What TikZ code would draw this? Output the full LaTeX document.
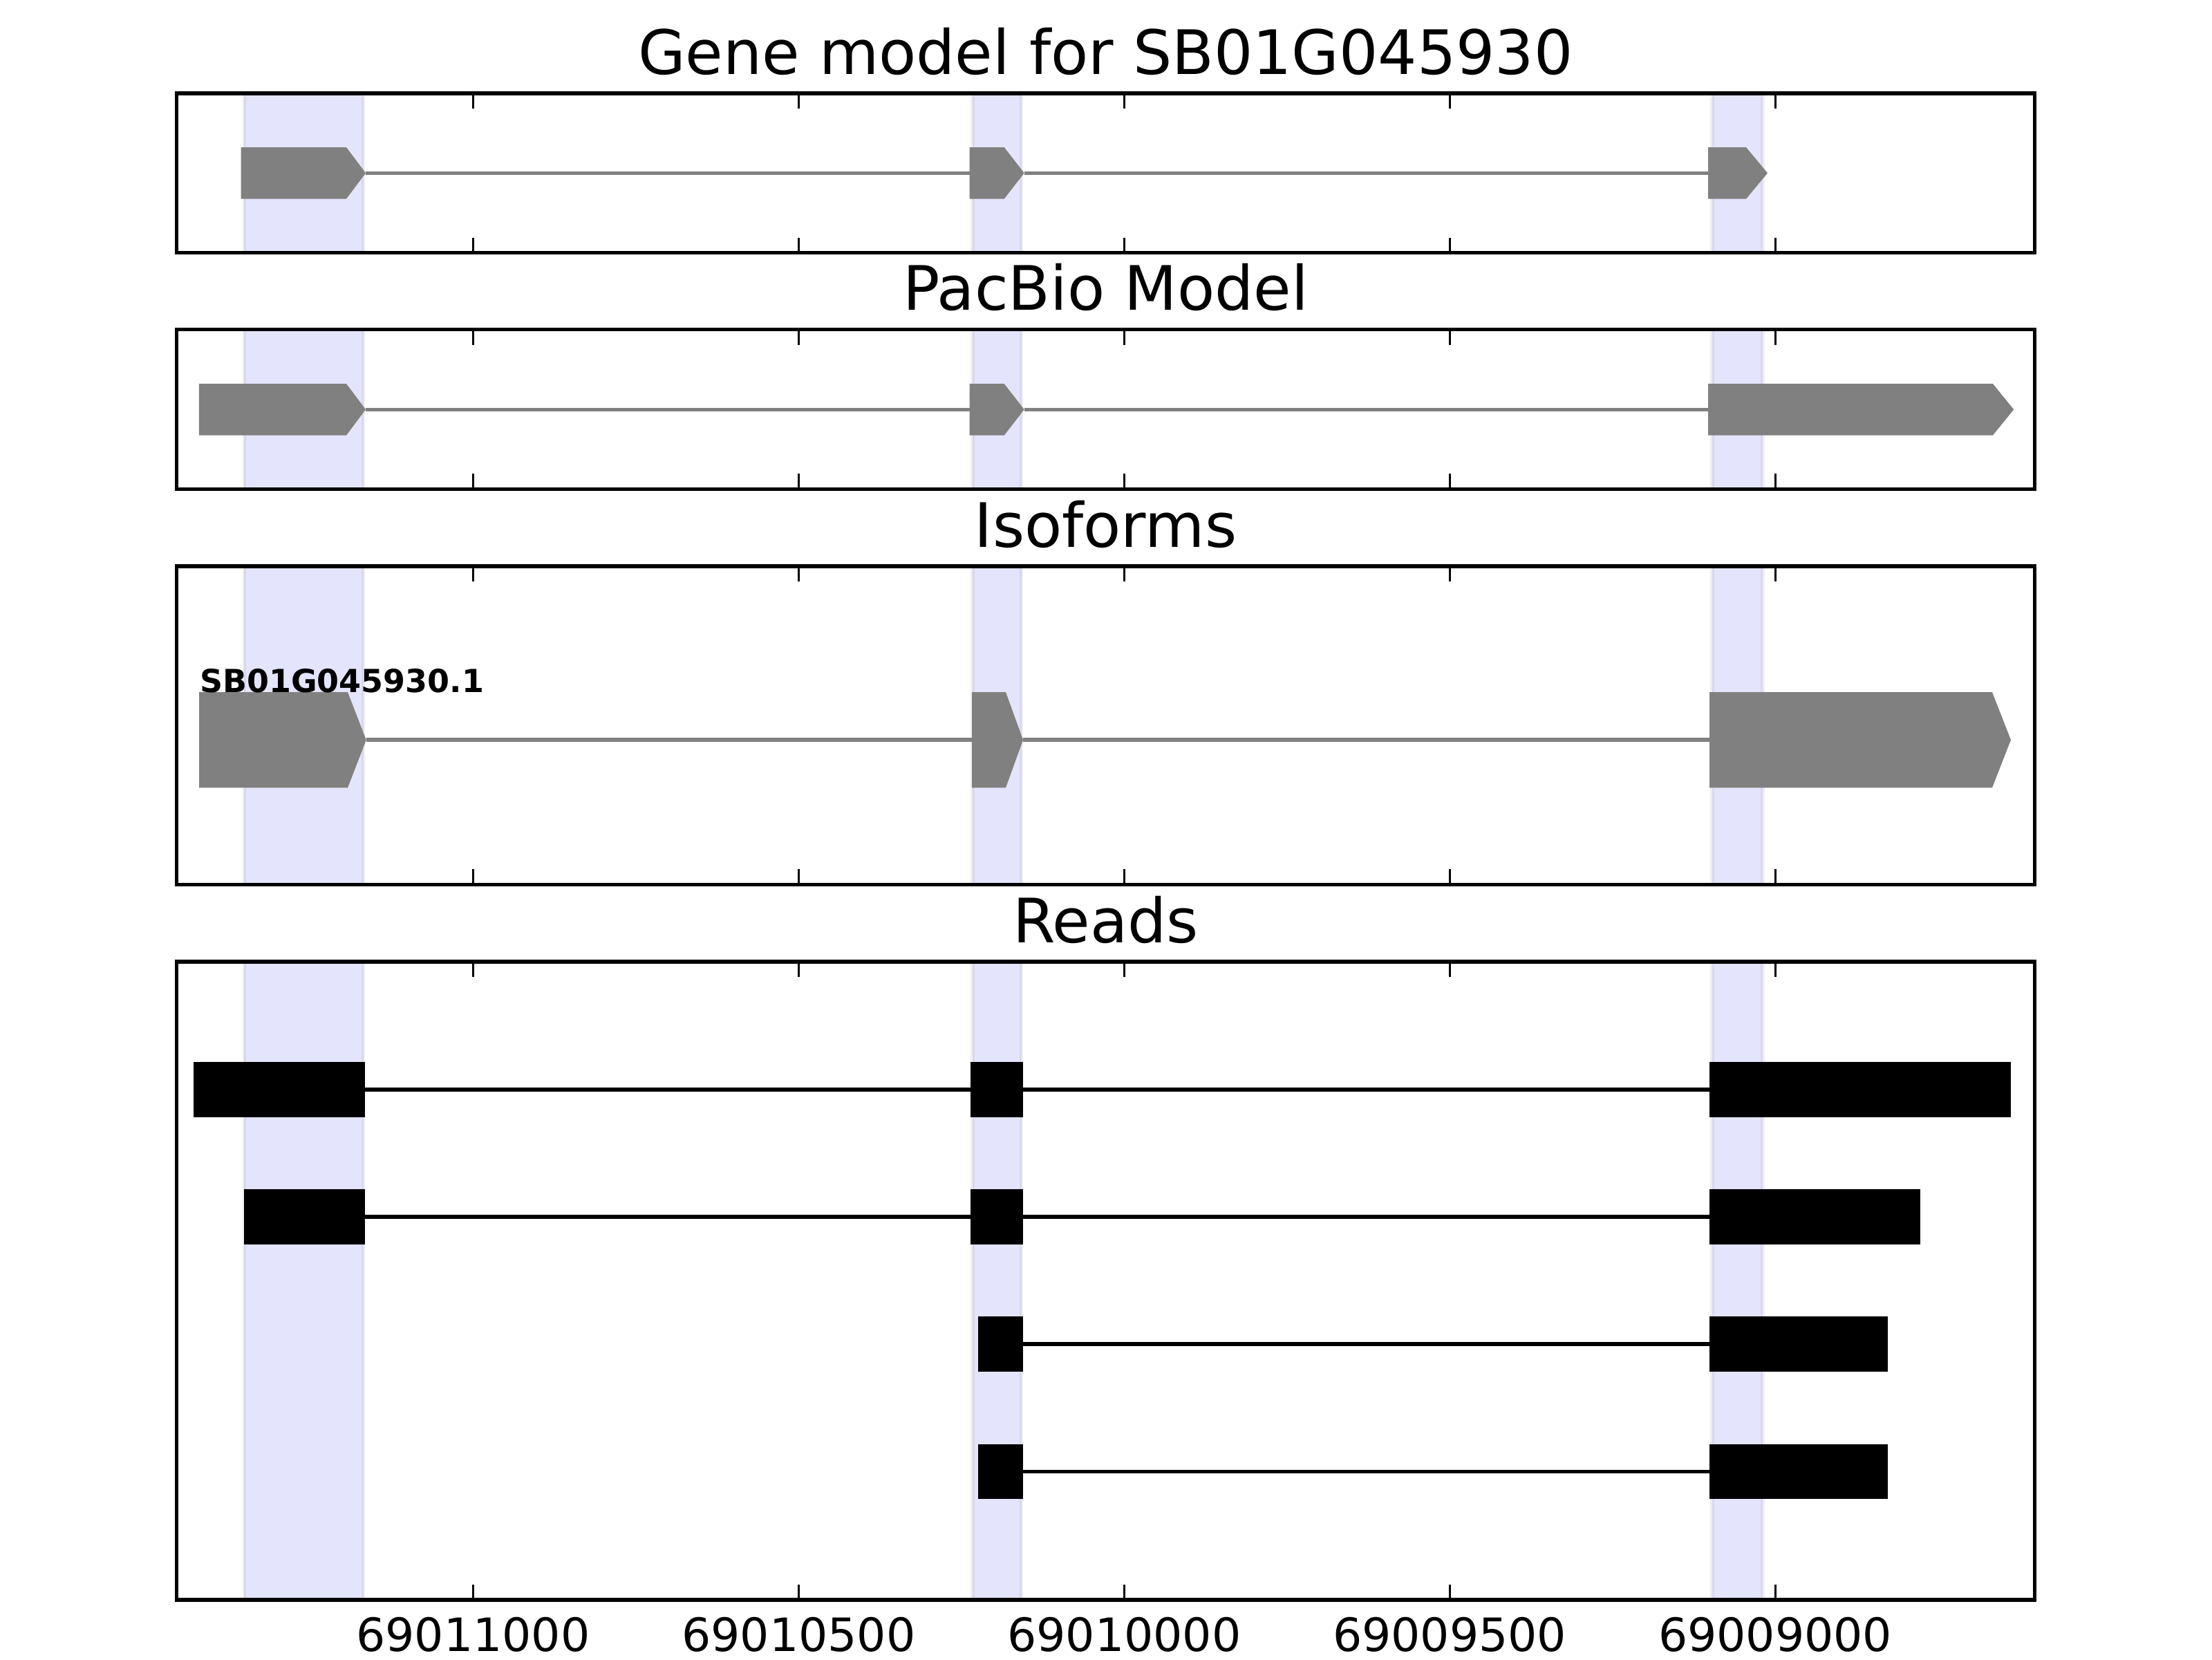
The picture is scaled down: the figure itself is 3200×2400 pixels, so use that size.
\documentclass[tikz,border=0pt]{standalone}
\usepackage{fontspec}
\setmainfont{DejaVu Sans}
\usepackage{tikz}
\definecolor{exongray}{RGB}{128,128,128}
\definecolor{spanfill}{RGB}{228,228,253}
\definecolor{spanedge}{RGB}{216,216,236}
\definecolor{spanhalo}{RGB}{238,238,242}

%% pentagon exon: start, body end, tip, y centre, half height
\newcommand{\exonarrow}[5]{%
  \fill[exongray] (#1,#4-#5) -- (#2,#4-#5) -- (#3,#4) -- (#2,#4+#5) -- (#1,#4+#5) -- cycle;}

%% shaded exon columns of the gene model
\newcommand{\exonspans}[2]{%
  \foreach \xa/\xb in {353/525.7,1406.7/1477.7,2476.8/2550}{
    \draw[spanhalo, line width=0.9pt] (\xa,#1) -- (\xa,#2) (\xb,#1) -- (\xb,#2);
    \fill[spanfill] (\xa,#1) rectangle (\xb,#2);
    \draw[spanedge, line width=0.5pt] (\xa+1.4,#1) -- (\xa+1.4,#2) (\xb-1.4,#1) -- (\xb-1.4,#2);
  }}

%% frame with inward ticks top and bottom
\newcommand{\axframe}[2]{%
  \foreach \t in {684.5,1155.4,1626.3,2097.2,2568.1}{
    \draw[line width=0.5pt] (\t,#1) -- ++(0,22.2);
    \draw[line width=0.5pt] (\t,#2) -- ++(0,-22.2);
  }
  \draw[line width=1pt] (255.5,#1) rectangle (2943.5,#2);}

\begin{document}
\begin{tikzpicture}[x=0.00635cm, y=-0.00635cm,
    ttl/.style={anchor=base, inner sep=0pt, font=\fontsize{16}{19}\selectfont},
    ticklbl/.style={anchor=base, inner sep=0pt, font=\fontsize{12}{14}\selectfont},
    intron/.style={exongray, line width=1pt},
    readline/.style={black, line width=1pt}]

    \useasboundingbox (0,0) rectangle (3200,2400);

    %% Gene model
    \node[ttl] (ttlgene) at (1599.5,107.3) {Gene model for SB01G045930};
    \exonspans{135}{365.7}
    \draw[intron] (529,250.3) -- (1402.7,250.3);
    \draw[intron] (1481.7,250.3) -- (2471,250.3);
    \exonarrow{348.7}{501}{529}{250.3}{37.3}
    \exonarrow{1402.7}{1452.7}{1481.7}{250.3}{37.3}
    \exonarrow{2471}{2526}{2557}{250.3}{37.3}
    \axframe{135}{365.7}

    %% PacBio model
    \node[ttl] (ttlpacbio) at (1599.5,448.7) {PacBio Model};
    \exonspans{476.4}{707.5}
    \draw[intron] (529,592.3) -- (1402.7,592.3);
    \draw[intron] (1481.7,592.3) -- (2471,592.3);
    \exonarrow{287.8}{501}{529}{592.3}{37.3}
    \exonarrow{1402.7}{1452.7}{1481.7}{592.3}{37.3}
    \exonarrow{2471}{2882.9}{2913.2}{592.3}{37.3}
    \axframe{476.4}{707.5}

    %% Isoforms
    \node[ttl] (ttliso) at (1599.5,791.1) {Isoforms};
    \exonspans{818.8}{1279.5}
    \draw[intron] (529.8,1070.2) -- (1406,1070.2);
    \draw[intron] (1480,1070.2) -- (2473,1070.2);
    \exonarrow{288}{503}{529.8}{1070.2}{69.1}
    \exonarrow{1406}{1455}{1480}{1070.2}{69.1}
    \exonarrow{2473}{2882}{2909}{1070.2}{69.1}
    \node[anchor=base west, inner sep=0pt, font=\fontsize{8.3}{10}\selectfont\bfseries]
      (isoname) at (288,1001) {SB01G045930.1};
    \axframe{818.8}{1279.5}

    %% Reads
    \node[ttl] (ttlreads) at (1599.5,1363.3) {Reads};
    \exonspans{1391}{2314}
    \draw[readline] (527.8,1575.9) -- (2472.9,1575.9);
    \foreach \xa/\xb in {280.2/527.8,1404.3/1479.7,2472.9/2908.6}
      \fill[black] (\xa,1575.9-39.8) rectangle (\xb,1575.9+39.8);
    \draw[readline] (527.8,1759.8) -- (2472.9,1759.8);
    \foreach \xa/\xb in {353/527.8,1404.3/1479.7,2472.9/2777.5}
      \fill[black] (\xa,1759.8-39.8) rectangle (\xb,1759.8+39.8);
    \foreach \yc in {1944.2,2128.6}{
      \draw[readline] (1479.7,\yc) -- (2472.9,\yc);
      \foreach \xa/\xb in {1415.3/1479.7,2472.9/2730.7}
        \fill[black] (\xa,\yc-39.8) rectangle (\xb,\yc+39.8);
    }
    \axframe{1391}{2314}

    %% Position labels
    \foreach \t/\lbl [count=\i] in {684.5/69011000,1155.4/69010500,1626.3/69010000,2097.2/69009500,2568.1/69009000}
      \node[ticklbl] (pos\i) at (\t,2388) {\lbl};

\end{tikzpicture}
\end{document}
